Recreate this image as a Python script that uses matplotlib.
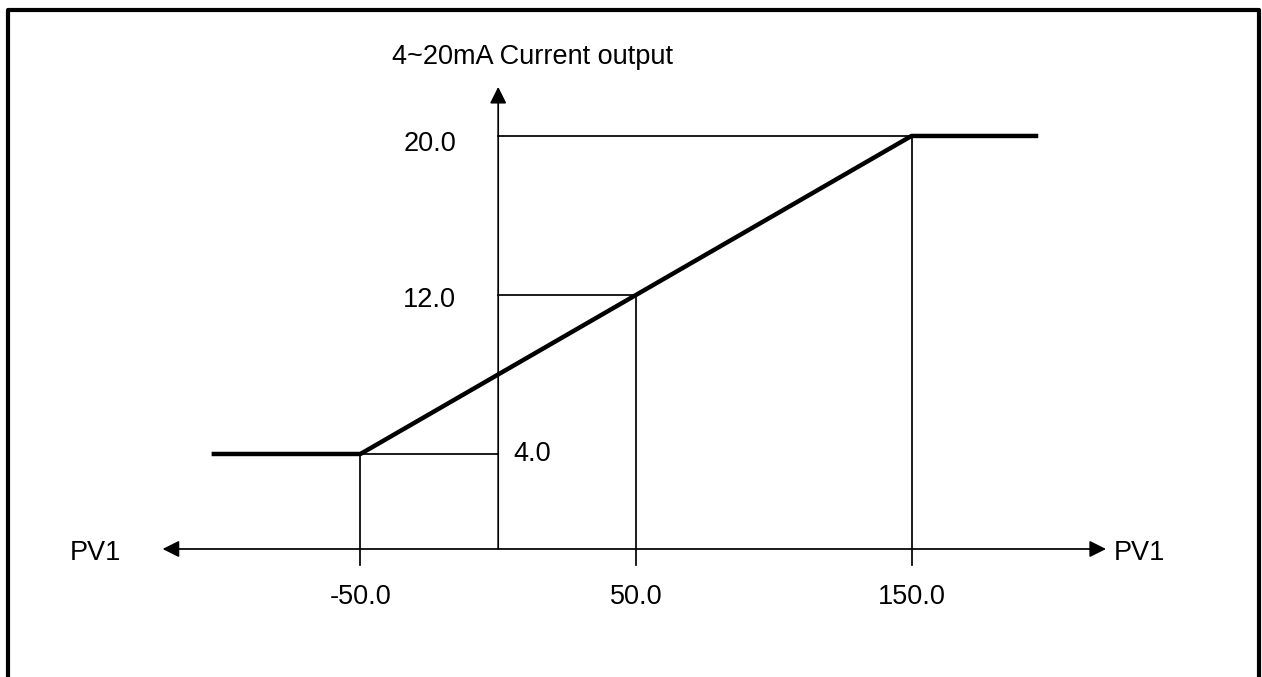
import matplotlib
matplotlib.use("Agg")
import matplotlib.pyplot as plt
from matplotlib.lines import Line2D

plt.rcParams["font.family"] = ["Liberation Sans", "DejaVu Sans"]

# PV1 breakpoints and the matching current output (mA)
pv_points = [-50.0, 50.0, 150.0]
ma_points = [4.0, 12.0, 20.0]
pv_labels = ["-50.0", "50.0", "150.0"]
ma_labels = ["4.0", "12.0", "20.0"]

# output curve: clamped at 4 mA below -50, clamped at 20 mA above 150
curve_pv = [-104.0, -50.0, 150.0, 196.0]
curve_ma = [4.0, 4.0, 20.0, 20.0]

x_axis_y = -0.78      # where the PV1 axis crosses
tick_bottom = -1.58   # tick marks drop a little below the axis

fig = plt.figure(figsize=(12.62, 6.77), dpi=100)
ax = fig.add_axes([0, 0, 1, 1])
ax.set_xlim(-180.8, 277.2)
ax.set_ylim(-7.22, 26.84)
ax.axis("off")

thin = dict(color="black", lw=1.25)

# PV1 axis, arrows both ways
ax.annotate("", xy=(-121.8, x_axis_y), xytext=(220.6, x_axis_y),
            arrowprops=dict(arrowstyle="<|-|>", color="black", lw=1.25,
                            mutation_scale=25, shrinkA=0, shrinkB=0))
# current axis
ax.annotate("", xy=(0, 22.47), xytext=(0, x_axis_y),
            arrowprops=dict(arrowstyle="-|>", color="black", lw=1.25,
                            mutation_scale=25, shrinkA=0, shrinkB=0))

# guide lines from each breakpoint
for pv, ma in zip(pv_points, ma_points):
    ax.plot([pv, pv], [ma, tick_bottom], **thin)
    ax.plot([min(pv, 0), max(pv, 0)], [ma, ma], **thin)

ax.plot(curve_pv, curve_ma, color="black", lw=3.2, solid_capstyle="butt")

fs = 19.5
for pv, lab in zip(pv_points, pv_labels):
    ax.text(pv, -3.2, lab, ha="center", va="center", fontsize=fs)

ax.text(-15.3, 19.6, ma_labels[2], ha="right", va="center", fontsize=fs)
ax.text(-15.3, 11.75, ma_labels[1], ha="right", va="center", fontsize=fs)
ax.text(5.4, 4.0, ma_labels[0], ha="left", va="center", fontsize=fs)

ax.text(-38.5, 23.97, "4~20mA Current output", ha="left", va="center", fontsize=fs)
ax.text(-146.2, x_axis_y - 0.2, "PV1", ha="center", va="center", fontsize=fs)
ax.text(232.8, x_axis_y - 0.2, "PV1", ha="center", va="center", fontsize=fs)

# open frame (no bottom edge)
fig.add_artist(Line2D([8 / 1262, 8 / 1262, 1259 / 1262, 1259 / 1262],
                      [0, 1 - 10 / 677, 1 - 10 / 677, 0],
                      transform=fig.transFigure, color="black", lw=3.0))

fig.savefig("out.png", dpi=100)
